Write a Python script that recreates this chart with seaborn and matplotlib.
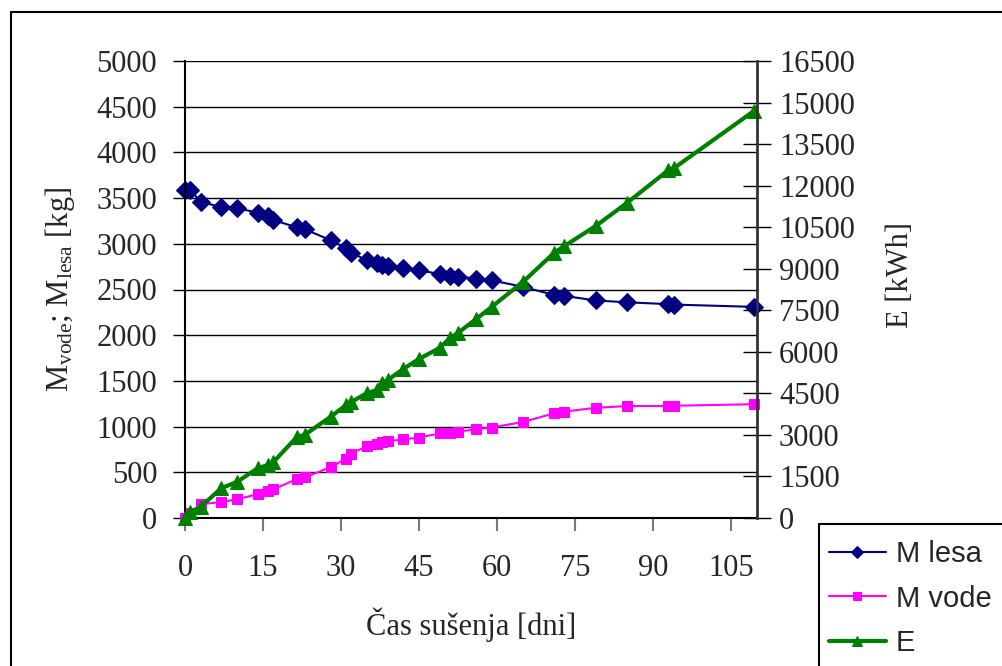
import matplotlib
matplotlib.use("Agg")
import matplotlib.pyplot as plt
import matplotlib.patches as mpatches
import seaborn as sns
import numpy as np

# ---- data ----
days = [0, 1, 3, 7, 10, 14, 16, 17, 21.5, 23, 28, 31, 32, 35, 37, 38, 39,
        42, 45, 49, 51, 52.5, 56, 59, 65, 71, 73, 79, 85, 93, 94, 109.5]
m_lesa = [3590, 3590, 3460, 3400, 3390, 3340, 3300, 3260, 3180, 3160, 3040,
          2950, 2900, 2820, 2790, 2770, 2760, 2730, 2710, 2670, 2650, 2640,
          2620, 2600, 2530, 2440, 2430, 2380, 2360, 2340, 2335, 2310]
m_vode = [0, 60, 150, 175, 205, 260, 290, 315, 425, 445, 555, 650, 705, 785,
          810, 830, 840, 860, 880, 925, 930, 945, 970, 990, 1050, 1145, 1165,
          1205, 1225, 1225, 1228, 1245]
energy = [0, 200, 400, 1080, 1300, 1800, 1910, 2020, 2920, 3000, 3650, 4080,
          4190, 4510, 4620, 4870, 4980, 5380, 5740, 6140, 6500, 6680, 7180,
          7620, 8520, 9570, 9820, 10540, 11370, 12560, 12620, 14700]
series_names = ["M lesa", "M vode", "E"]
x_ticks = [0, 15, 30, 45, 60, 75, 90, 105]
left_ticks = list(range(0, 5001, 500))
right_ticks = list(range(0, 16501, 1500))

sns.set_style("white")
plt.rcParams["font.family"] = ["Liberation Serif", "DejaVu Serif"]
plt.rcParams["mathtext.fontset"] = "custom"
plt.rcParams["mathtext.rm"] = "Liberation Serif"
plt.rcParams["mathtext.it"] = "Liberation Serif:italic"

W, H = 1002, 666
fig = plt.figure(figsize=(W / 100, H / 100), dpi=100)
fig.patch.set_facecolor("white")

L, R, T, B = 185, 756.7, 61, 518
ax = fig.add_axes([L / W, 1 - B / H, (R - L) / W, (B - T) / H])
ax2 = ax.twinx()

navy, magenta, green = "#000080", "#FF00FF", "#008000"

sns.lineplot(x=days, y=m_lesa, ax=ax, color=navy, lw=1.5, marker="D",
             markersize=9, markeredgecolor=navy, markerfacecolor=navy,
             estimator=None, sort=False, legend=False)
sns.lineplot(x=days, y=m_vode, ax=ax, color=magenta, lw=1.5, marker="s",
             markersize=7.5, markeredgecolor=magenta, markerfacecolor=magenta,
             estimator=None, sort=False, legend=False)
sns.lineplot(x=days, y=energy, ax=ax2, color=green, lw=3, marker="^",
             markersize=10.5, markeredgecolor=green, markerfacecolor=green,
             estimator=None, sort=False, legend=False)

for ln, nm in zip(list(ax.lines) + list(ax2.lines), series_names):
    ln.set_clip_on(False)
    ln.set_label(nm)

ax.set_xlim(0, 110)
ax.set_ylim(0, 5000)
ax2.set_ylim(0, 16500)
ax.set_xticks(x_ticks)
ax.set_yticks(left_ticks)
ax2.set_yticks(right_ticks)
ax.set_xlabel("")
ax.set_ylabel("")
ax2.set_ylabel("")

ax.yaxis.grid(True, color="black", lw=1)
ax.xaxis.grid(False)
ax2.grid(False)
ax.set_axisbelow(True)

for s in ["top", "right"]:
    ax.spines[s].set_visible(False)
for s in ["top", "left", "bottom"]:
    ax2.spines[s].set_visible(False)
ax.spines["left"].set_color("black")
ax.spines["left"].set_linewidth(1.5)
ax.spines["bottom"].set_color("black")
ax.spines["bottom"].set_linewidth(1.5)
ax2.spines["right"].set_color("#333333")
ax2.spines["right"].set_linewidth(2)

ax.tick_params(axis="y", direction="out", length=9, width=1, color="black",
               labelsize=22, pad=11, left=True)
ax.tick_params(axis="x", direction="out", length=9, width=1.5, color="#777777",
               labelsize=22, pad=17, bottom=True)
ax2.tick_params(axis="y", direction="inout", length=20, width=1, color="black",
                labelsize=22, pad=6, right=True)

fig.text(471 / W, 1 - 635 / H, "Čas sušenja [dni]", fontsize=22,
         ha="center", va="baseline")
fig.text(60 / W, 1 - 289 / H, r"M$_{\mathrm{vode}}$; M$_{\mathrm{lesa}}$ [kg]",
         fontsize=22, rotation=90, ha="center", va="center")
fig.text(900 / W, 1 - 275 / H, "E [kWh]", fontsize=22, rotation=90,
         ha="center", va="center")

# outer chart border (extends beyond the image on right and bottom)
fig.patches.append(mpatches.Rectangle((11 / W, -0.2), 2, (1 - 12 / H) + 0.2,
                                      transform=fig.transFigure, fill=False,
                                      ec="black", lw=1.5, zorder=0))
# legend box (cut off by the image edge)
fig.patches.append(mpatches.Rectangle((819 / W, -0.2), 1, (1 - 524 / H) + 0.2,
                                      transform=fig.transFigure, fc="white",
                                      ec="black", lw=1.5, zorder=5))

handles = list(ax.lines) + list(ax2.lines)
leg = fig.legend(handles=handles, labels=series_names, loc="upper left",
                 bbox_to_anchor=(829 / W, 1 - 540 / H), frameon=False,
                 prop={"family": "Liberation Sans", "size": 21},
                 handlelength=1.95, handletextpad=0.35, labelspacing=0.57,
                 borderpad=0, borderaxespad=0, markerscale=0.7)
leg.set_zorder(6)

fig.savefig("out.png", dpi=100, facecolor="white")
